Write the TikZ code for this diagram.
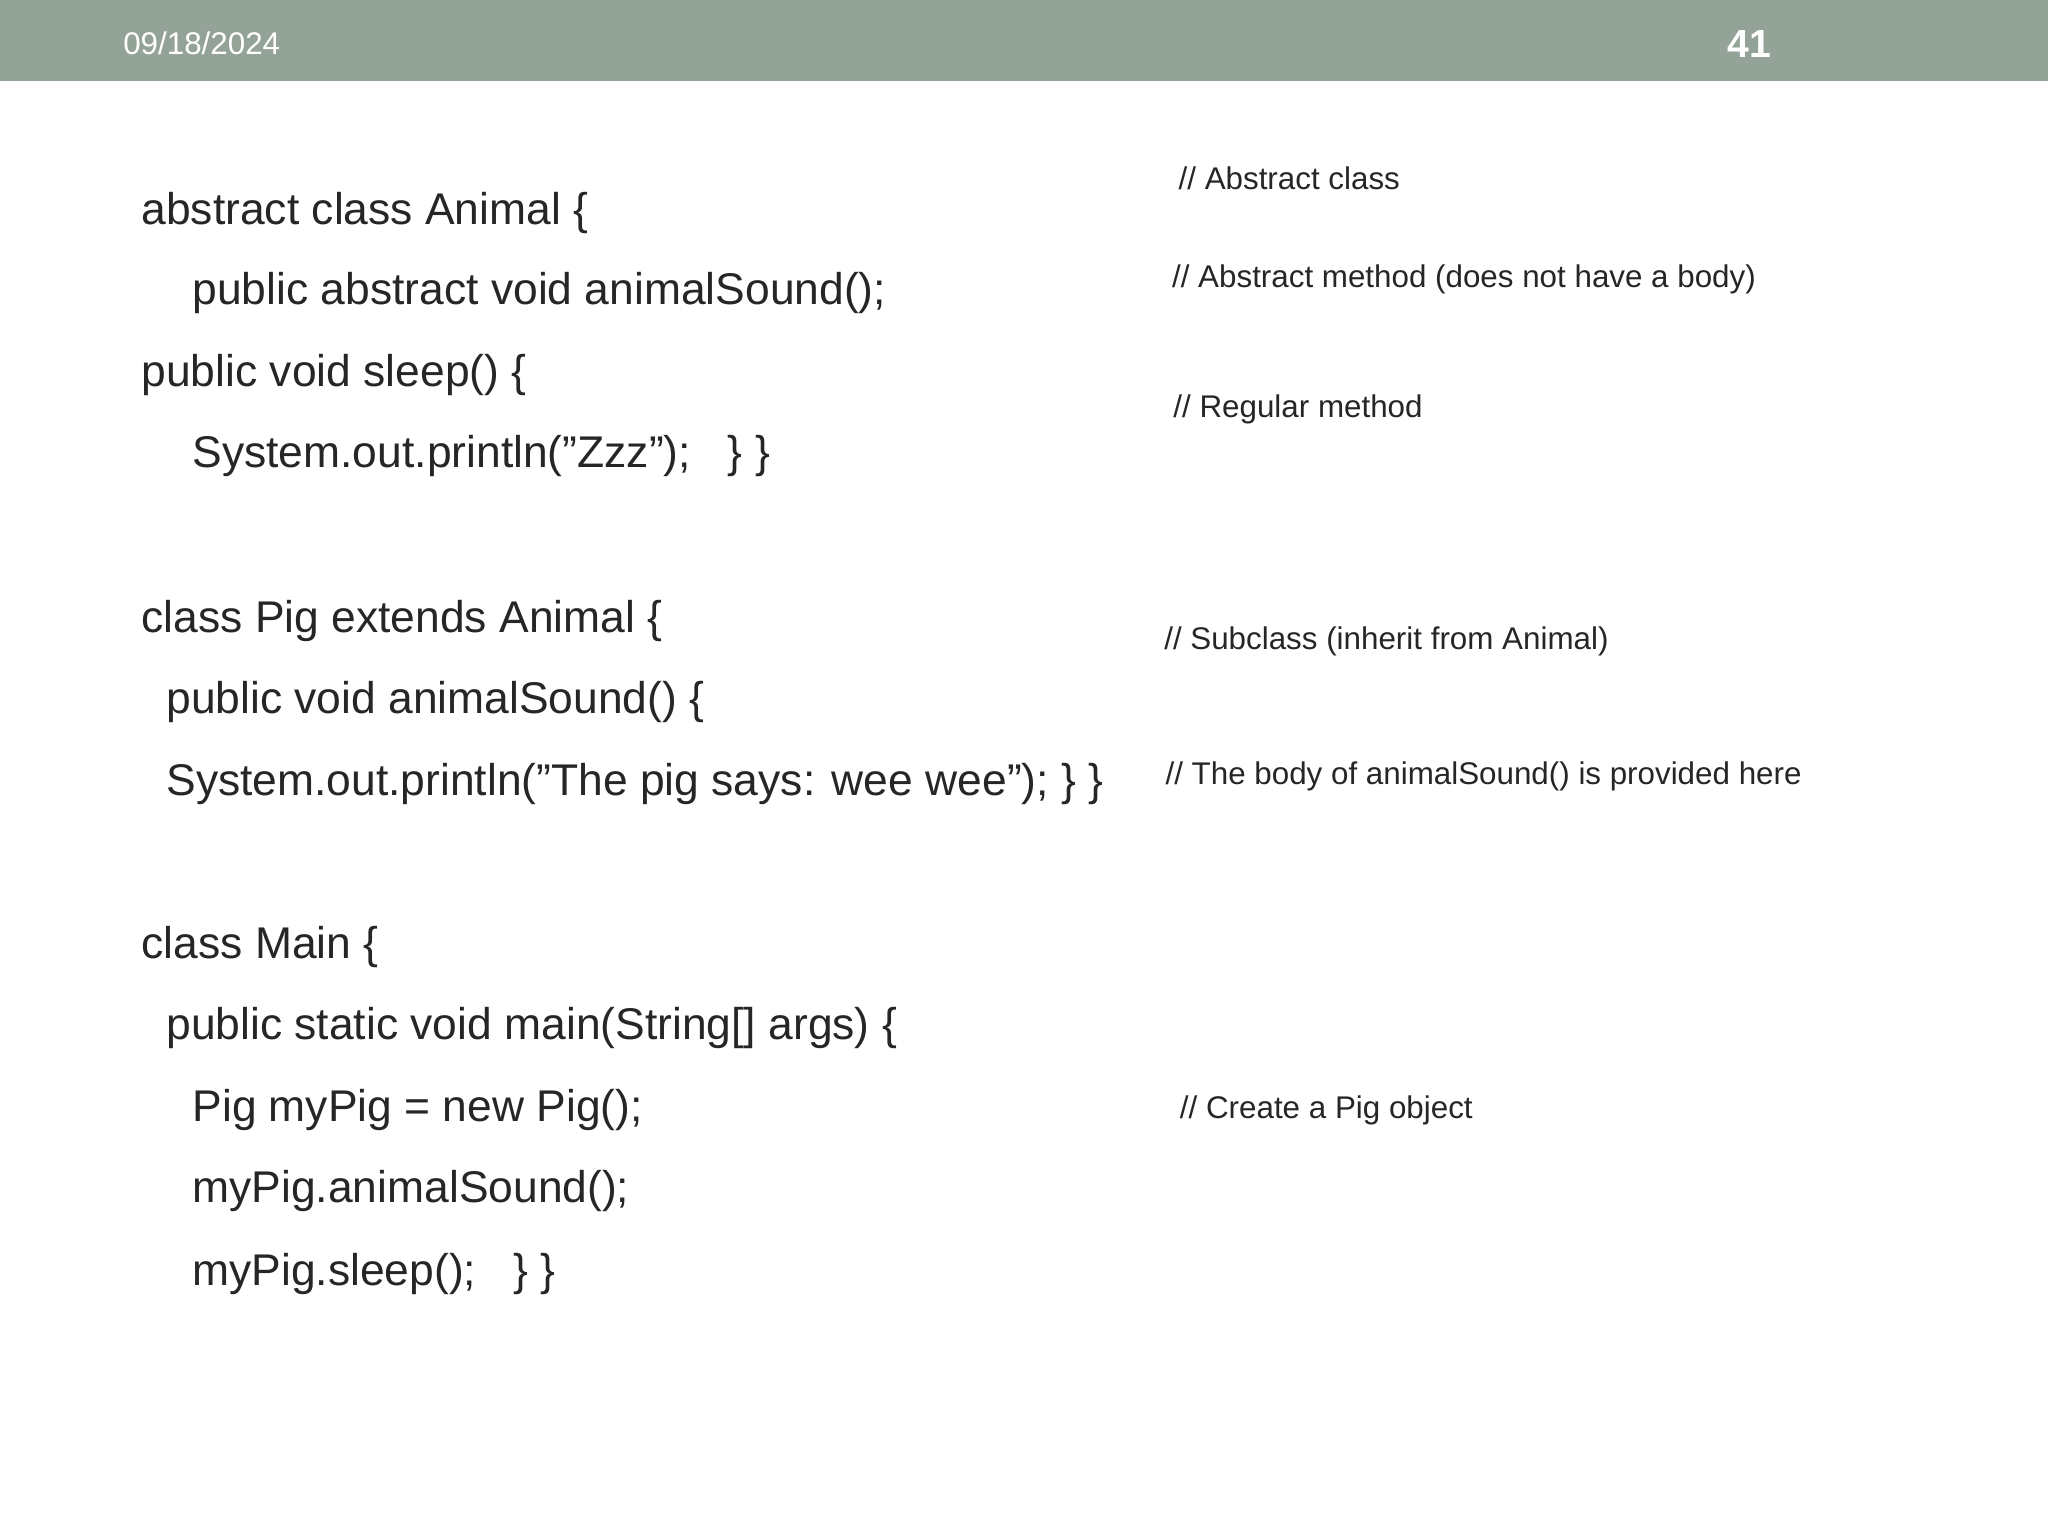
\documentclass[tikz,border=0pt]{standalone}
\usepackage{fontspec}
\setmainfont{Liberation Sans}
\definecolor{bar}{HTML}{93A398}
\definecolor{txt}{HTML}{262626}
\begin{document}
\begin{tikzpicture}[x=0.5pt,y=-0.5pt,
 code/.style={anchor=base west,inner sep=0pt,text=txt,font=\fontsize{17}{20}\selectfont},
 cmt/.style={anchor=base west,inner sep=0pt,text=txt,font=\fontsize{12}{14}\selectfont}]
\useasboundingbox (0,0) rectangle (1568,1176);
\fill[white] (0,0) rectangle (1568,1176);
\fill[bar] (0,0) rectangle (1568,62);
\node[anchor=base west,inner sep=0pt,text=white,font=\fontsize{12}{14}\selectfont] (date) at (94,42) {09/18/2024};
\node[anchor=base west,inner sep=0pt,text=white,font=\fontsize{15}{18}\selectfont\bfseries] (num) at (1322,44) {41};
\node[code] (c1) at (108,172) {abstract class Animal \{};
\node[code] (c2) at (147,233) {public abstract void animalSound();};
\node[code] (c3) at (108,296) {public void sleep() \{};
\node[code] (c4) at (147,358) {System.out.println("Zzz");\ \ \ \} \}};
\node[code] (c5) at (108,484) {class Pig extends Animal \{};
\node[code] (c6) at (127,546) {public void animalSound() \{};
\node[code] (c7) at (127,609) {System.out.println("The pig says: wee wee"); \} \}};
\node[code] (c8) at (108,734) {class Main \{};
\node[code] (c9) at (127,796) {public static void main(String[] args) \{};
\node[code] (c10) at (147,859) {Pig myPig = new Pig();};
\node[code] (c11) at (147,921) {myPig.animalSound();};
\node[code] (c12) at (147,984) {myPig.sleep();\ \ \ \} \}};
\node[cmt] (m1) at (902,145) {// Abstract class};
\node[cmt] (m2) at (897,220) {// Abstract method (does not have a body)};
\node[cmt] (m3) at (898,320) {// Regular method};
\node[cmt] (m4) at (891,497) {// Subclass (inherit from Animal)};
\node[cmt] (m5) at (892,601) {// The body of animalSound() is provided here};
\node[cmt] (m6) at (903,856) {// Create a Pig object};
\end{tikzpicture}
\end{document}
